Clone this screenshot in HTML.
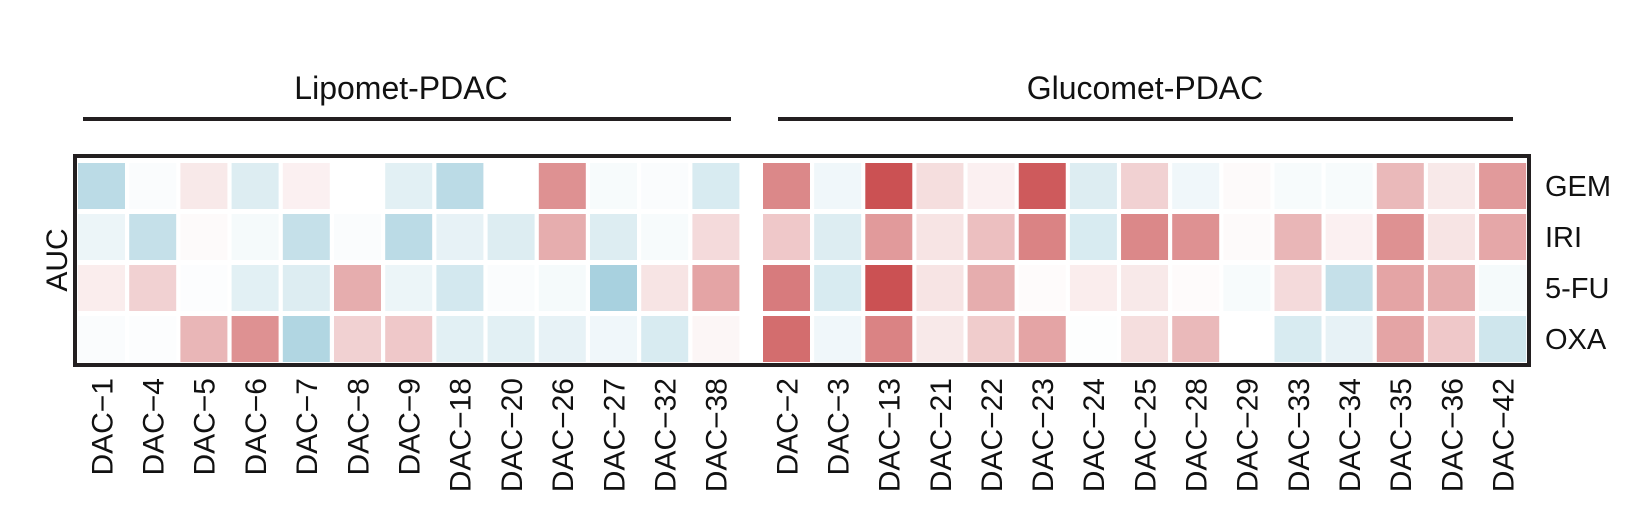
<!DOCTYPE html>
<html><head><meta charset="utf-8"><style>
html,body{margin:0;padding:0;background:#fff;}
svg{display:block;font-family:"Liberation Sans",Arial,sans-serif;}
</style></head><body>
<svg id="chart" width="1631" height="530" viewBox="0 0 1631 530" xmlns="http://www.w3.org/2000/svg">
<text x="401" y="99" font-size="32" text-anchor="middle" fill="#111">Lipomet-PDAC</text>
<line x1="83" y1="119" x2="731" y2="119" stroke="#231f20" stroke-width="4"/>
<text x="1145" y="99" font-size="32" text-anchor="middle" fill="#111">Glucomet-PDAC</text>
<line x1="778" y1="119" x2="1513" y2="119" stroke="#231f20" stroke-width="4"/>
<text transform="translate(67,260) rotate(-90)" font-size="30" text-anchor="middle" fill="#111">AUC</text>
<g id="cells"></g>
<g id="collabels"></g>
<g id="rowlabels"></g>
<rect x="75" y="156" width="1454" height="209" fill="none" stroke="#231f20" stroke-width="4"/>
</svg>
<script>
const leftCols = ["DAC-1","DAC-4","DAC-5","DAC-6","DAC-7","DAC-8","DAC-9","DAC-18","DAC-20","DAC-26","DAC-27","DAC-32","DAC-38"];
const rightCols = ["DAC-2","DAC-3","DAC-13","DAC-21","DAC-22","DAC-23","DAC-24","DAC-25","DAC-28","DAC-29","DAC-33","DAC-34","DAC-35","DAC-36","DAC-42"];
const rows = ["GEM","IRI","5-FU","OXA"];
const gemValues = [-0.7,-0.05,0.12,-0.35,0.08,0,-0.3,-0.7,0,0.6,-0.08,-0.05,-0.4, 0.65,-0.15,0.95,0.18,0.08,0.9,-0.35,0.25,-0.15,0.03,-0.08,-0.08,0.38,0.12,0.55];
const iriValues = [-0.2,-0.6,0.03,-0.1,-0.6,-0.05,-0.7,-0.25,-0.35,0.45,-0.35,-0.08,0.2, 0.3,-0.35,0.55,0.15,0.35,0.68,-0.4,0.65,0.6,0.03,0.4,0.08,0.6,0.15,0.48];
const fuValues  = [0.1,0.25,-0.03,-0.3,-0.35,0.45,-0.2,-0.45,-0.05,-0.1,-0.9,0.15,0.5, 0.72,-0.4,0.95,0.15,0.45,0.02,0.1,0.12,0.02,-0.08,0.2,-0.6,0.5,0.45,-0.1];
const oxaValues = [-0.05,-0.03,0.4,0.6,-0.8,0.25,0.3,-0.3,-0.3,-0.25,-0.15,-0.4,0.05, 0.8,-0.15,0.68,0.12,0.28,0.5,-0.02,0.18,0.38,0,-0.4,-0.25,0.5,0.3,-0.5];
const matrix = [gemValues, iriValues, fuValues, oxaValues];

const NS = "http://www.w3.org/2000/svg";
const cols = leftCols.concat(rightCols);
function xScale(i){ return i < leftCols.length ? 78 + 51.2*i : 763 + 51.15*(i-leftCols.length); }
function yScale(r){ return 163 + 51*r; }
const cw = 47, ch = 46;
function color(v){
  v = Math.max(-1, Math.min(1, v));
  const hi = v >= 0 ? [200,72,74] : [158,204,219];
  const t = Math.abs(v);
  const c = hi.map(h => Math.round(255 + (h-255)*t));
  return `rgb(${c[0]},${c[1]},${c[2]})`;
}
const cg = document.getElementById('cells');
matrix.forEach((row, r) => {
  row.forEach((v, i) => {
    const rc = document.createElementNS(NS, 'rect');
    rc.setAttribute('x', xScale(i)); rc.setAttribute('y', yScale(r));
    rc.setAttribute('width', cw); rc.setAttribute('height', ch);
    rc.setAttribute('fill', color(v));
    
    
    cg.appendChild(rc);
  });
});
const lg = document.getElementById('collabels');
cols.forEach((c, i) => {
  const t = document.createElementNS(NS, 'text');
  const cx = xScale(i) + cw/2;
  t.setAttribute('transform', `translate(${cx},378) rotate(-90)`);
  t.setAttribute('text-anchor', 'end');
  t.setAttribute('dy', '0.36em');
  t.setAttribute('font-size', '30');
  t.setAttribute('fill', '#111');
  t.textContent = c.replace('-', '\u2212');
  
  
  lg.appendChild(t);
});
const rg = document.getElementById('rowlabels');
rows.forEach((rn, r) => {
  const t = document.createElementNS(NS, 'text');
  t.setAttribute('x', 1545);
  t.setAttribute('y', yScale(r) + ch/2 + 10);
  t.setAttribute('font-size', '29');
  t.setAttribute('fill', '#111');
  t.textContent = rn;
  
  
  rg.appendChild(t);
});
</script>
</body></html>
